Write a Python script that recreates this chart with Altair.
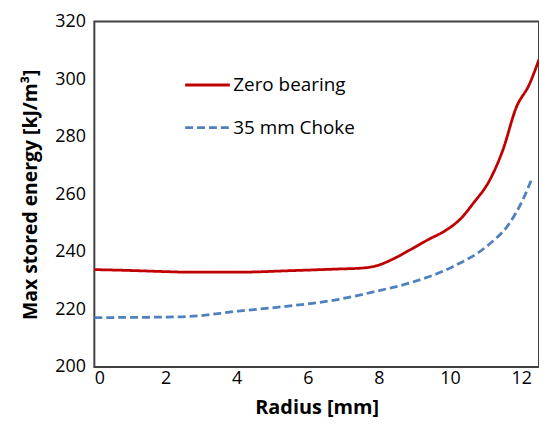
import altair as alt
import pandas as pd

series_names = ["Zero bearing", "35 mm Choke"]

zero_x = [0, 1, 2, 2.65, 3.5, 4.05, 5.44, 6.84, 7.48, 7.95, 8.4, 8.88, 9.4, 9.9, 10.3, 10.65, 11.11, 11.48, 11.86, 12.23, 12.5]
zero_y = [233.8, 233.5, 233.1, 232.9, 232.9, 232.9, 233.4, 234.0, 234.3, 235.2, 237.5, 240.7, 244.3, 247.6, 251.5, 256.8, 264.8, 275.2, 290.1, 298.2, 306.8]

choke_x = [0, 1, 2, 2.65, 4.05, 5.44, 6.84, 8.04, 8.88, 10.09, 11.02, 11.67, 12.04, 12.28]
choke_y = [217.1, 217.2, 217.3, 217.5, 219.4, 221.1, 223.4, 226.6, 229.2, 234.9, 241.8, 249.9, 257.9, 264.8]

df = pd.concat([
    pd.DataFrame({"x": zero_x, "y": zero_y, "s": series_names[0]}),
    pd.DataFrame({"x": choke_x, "y": choke_y, "s": series_names[1]}),
])

font = "Open Sans"

legend_cfg = dict(title=None, orient="none", legendX=90, legendY=40,
                  symbolType="stroke", symbolSize=2025, symbolStrokeWidth=2.8,
                  labelFontSize=19, labelFont=font, labelColor="#000000",
                  rowPadding=9, labelOffset=2)

chart = alt.Chart(df).mark_line(interpolate="monotone", strokeWidth=2.8).encode(
    x=alt.X("x:Q", scale=alt.Scale(domain=[0, 12.5], nice=False),
            axis=alt.Axis(values=[0, 2, 4, 6, 8, 10, 12], title="Radius [mm]", grid=False,
                          domain=False, ticks=False, labelPadding=3, labelFontSize=18,
                          labelColor="#000000", labelFont=font, titleFont=font, titleFontSize=20,
                          titleFontWeight="bold", titleColor="#000000", titlePadding=10)),
    y=alt.Y("y:Q", scale=alt.Scale(domain=[200, 320], nice=False),
            axis=alt.Axis(values=[200, 220, 240, 260, 280, 300, 320], title="Max stored energy [kJ/m³]",
                          grid=False, domain=False, ticks=False, labelPadding=9, labelFontSize=18,
                          labelColor="#000000", labelFont=font, titleFont=font, titleFontSize=19.5,
                          titleFontWeight="bold", titleColor="#000000", titlePadding=14)),
    color=alt.Color("s:N", scale=alt.Scale(domain=series_names, range=["#C00000", "#4F81BD"]),
                    legend=alt.Legend(**legend_cfg)),
    strokeDash=alt.StrokeDash("s:N", scale=alt.Scale(domain=series_names, range=[[1, 0], [8, 4]]),
                              legend=alt.Legend(**legend_cfg)),
).properties(
    width=448, height=348,
    autosize=alt.AutoSizeParams(type="none"),
    padding={"left": 87, "top": 12, "right": 0, "bottom": 62},
).configure_view(stroke="#404040", strokeWidth=2)

chart.save("out.html", embed_options={"renderer": "svg", "actions": False})
